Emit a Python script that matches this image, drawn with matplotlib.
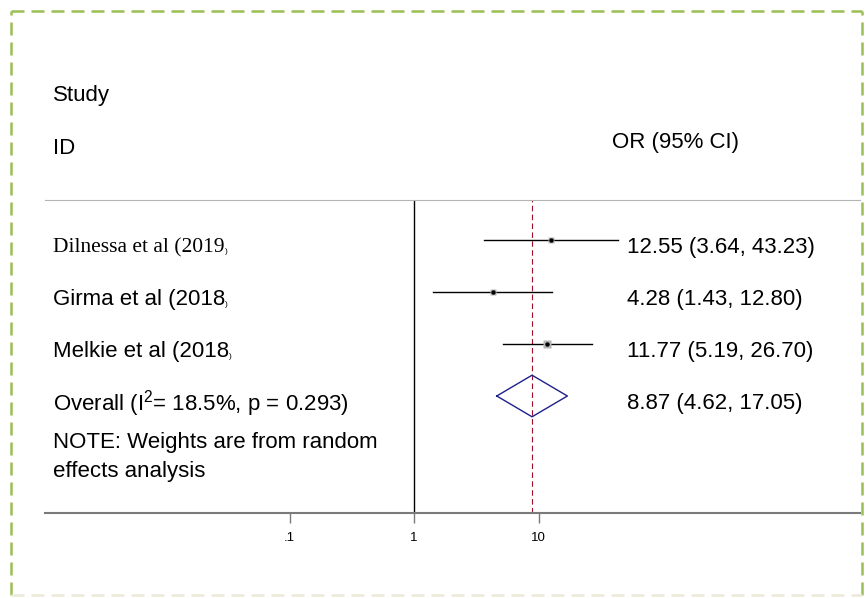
import numpy as np
import matplotlib
matplotlib.use("Agg")
import matplotlib.pyplot as plt
from matplotlib.transforms import blended_transform_factory
from matplotlib.lines import Line2D

plt.rcParams["font.family"] = ["Liberation Sans", "DejaVu Sans"]
plt.rcParams["mathtext.default"] = "regular"

# study-level odds ratios with 95% CI
studies = ["Dilnessa et al (2019", "Girma et al (2018", "Melkie et al (2018"]
or_est = [12.55, 4.28, 11.77]
ci_low = [3.64, 1.43, 5.19]
ci_high = [43.23, 12.80, 26.70]
box_size = [5.5, 5.5, 8]

# pooled random-effects estimate
pooled = 8.87
pooled_low = 4.62
pooled_high = 17.05
overall_label = "Overall (I$^2$= 18.5%, p = 0.293)"

xticks = [0.1, 1, 10]
xtick_labels = [".1", "1", "10"]

W, H = 867, 598
fig = plt.figure(figsize=(W / 100, H / 100), dpi=100)

# plot panel: pixel box 45..860 horizontally, 200..513 vertically
ax = fig.add_axes([45 / W, (H - 513) / H, 815 / W, 313 / H])
ax.set_xscale("log")
ax.set_xlim(10 ** -2.964, 10 ** 3.582)
ax.set_ylim(5.25, -0.769)

for s in ["left", "right"]:
    ax.spines[s].set_visible(False)
ax.spines["top"].set_color("#b4b4b4")
ax.spines["top"].set_linewidth(0.8)
ax.spines["bottom"].set_color("#7a7a7a")
ax.spines["bottom"].set_linewidth(1.5)

ax.set_xticks(xticks)
ax.set_xticklabels(xtick_labels, fontsize=9.5)
ax.minorticks_off()
ax.tick_params(axis="x", length=7, width=1, color="#7a7a7a", pad=7)
ax.set_yticks([])

# null line and pooled-estimate line
ax.axvline(1, color="black", lw=1)
ax.axvline(pooled, color="#a0102a", lw=0.8, ls=(0, (5, 3)))

rows = np.arange(len(studies))
for i in rows:
    ax.plot([ci_low[i], ci_high[i]], [i, i], color="black", lw=1)
    ax.plot(or_est[i], i, marker="s", ms=box_size[i] * 0.72, color="#b4b4b4", mec="none")
    ax.plot(or_est[i], i, marker="o", ms=3.2, color="black", mec="none")

# pooled diamond
yo = len(studies)
dx = [pooled_low, pooled, pooled_high, pooled, pooled_low]
dy = [yo, yo - 0.40, yo, yo + 0.40, yo]
ax.plot(dx, dy, color="#1f1f8a", lw=1)

# text columns
lab = blended_transform_factory(fig.transFigure, ax.transData)
fs = 16
off = 0.15
for i, name in enumerate(studies):
    fam = ["Liberation Serif"] if i == 0 else ["Liberation Sans"]
    t = ax.text(53 / W, i + off, name, transform=lab, fontsize=fs if i else fs - 0.5,
                family=fam, va="center", ha="left")
    ax.annotate(")", xy=(1, 0.12), xycoords=t, fontsize=6, va="bottom", ha="left")
    ax.text(627 / W, i + off, f"{or_est[i]:.2f} ({ci_low[i]:.2f}, {ci_high[i]:.2f})",
            transform=lab, fontsize=fs, va="center", ha="left")

ax.text(53 / W, yo + off, overall_label, transform=lab, fontsize=fs, va="center", ha="left")
ax.text(627 / W, yo + off, f"{pooled:.2f} ({pooled_low:.2f}, {pooled_high:.2f})",
        transform=lab, fontsize=fs, va="center", ha="left")
ax.text(53 / W, 3.89, "NOTE: Weights are from random", transform=lab, fontsize=fs,
        va="center", ha="left")
ax.text(53 / W, 4.46, "effects analysis", transform=lab, fontsize=fs, va="center", ha="left")

# column headers
fig.text(53 / W, 1 - 96 / H, "Study", fontsize=fs, va="center", ha="left")
fig.text(53 / W, 1 - 148 / H, "ID", fontsize=fs, va="center", ha="left")
fig.text(612 / W, 1 - 142 / H, "OR (95% CI)", fontsize=fs, va="center", ha="left")

# dashed frame around the figure
green = "#9cbf55"
dash = (0, (5.2, 2.8))
x0, x1 = 11 / W, 862 / W
y0, y1 = 1 - 595 / H, 1 - 11 / H
for xs, ys, c in [([x0, x1], [y1, y1], green),
                  ([x0, x0], [y0, y1], green),
                  ([x1, x1], [y0, y1], green),
                  ([x0, x1], [y0, y0], "#ece9d8")]:
    fig.add_artist(Line2D(xs, ys, transform=fig.transFigure, color=c, lw=1.8, ls=dash))

fig.savefig("out.png", dpi=100)
